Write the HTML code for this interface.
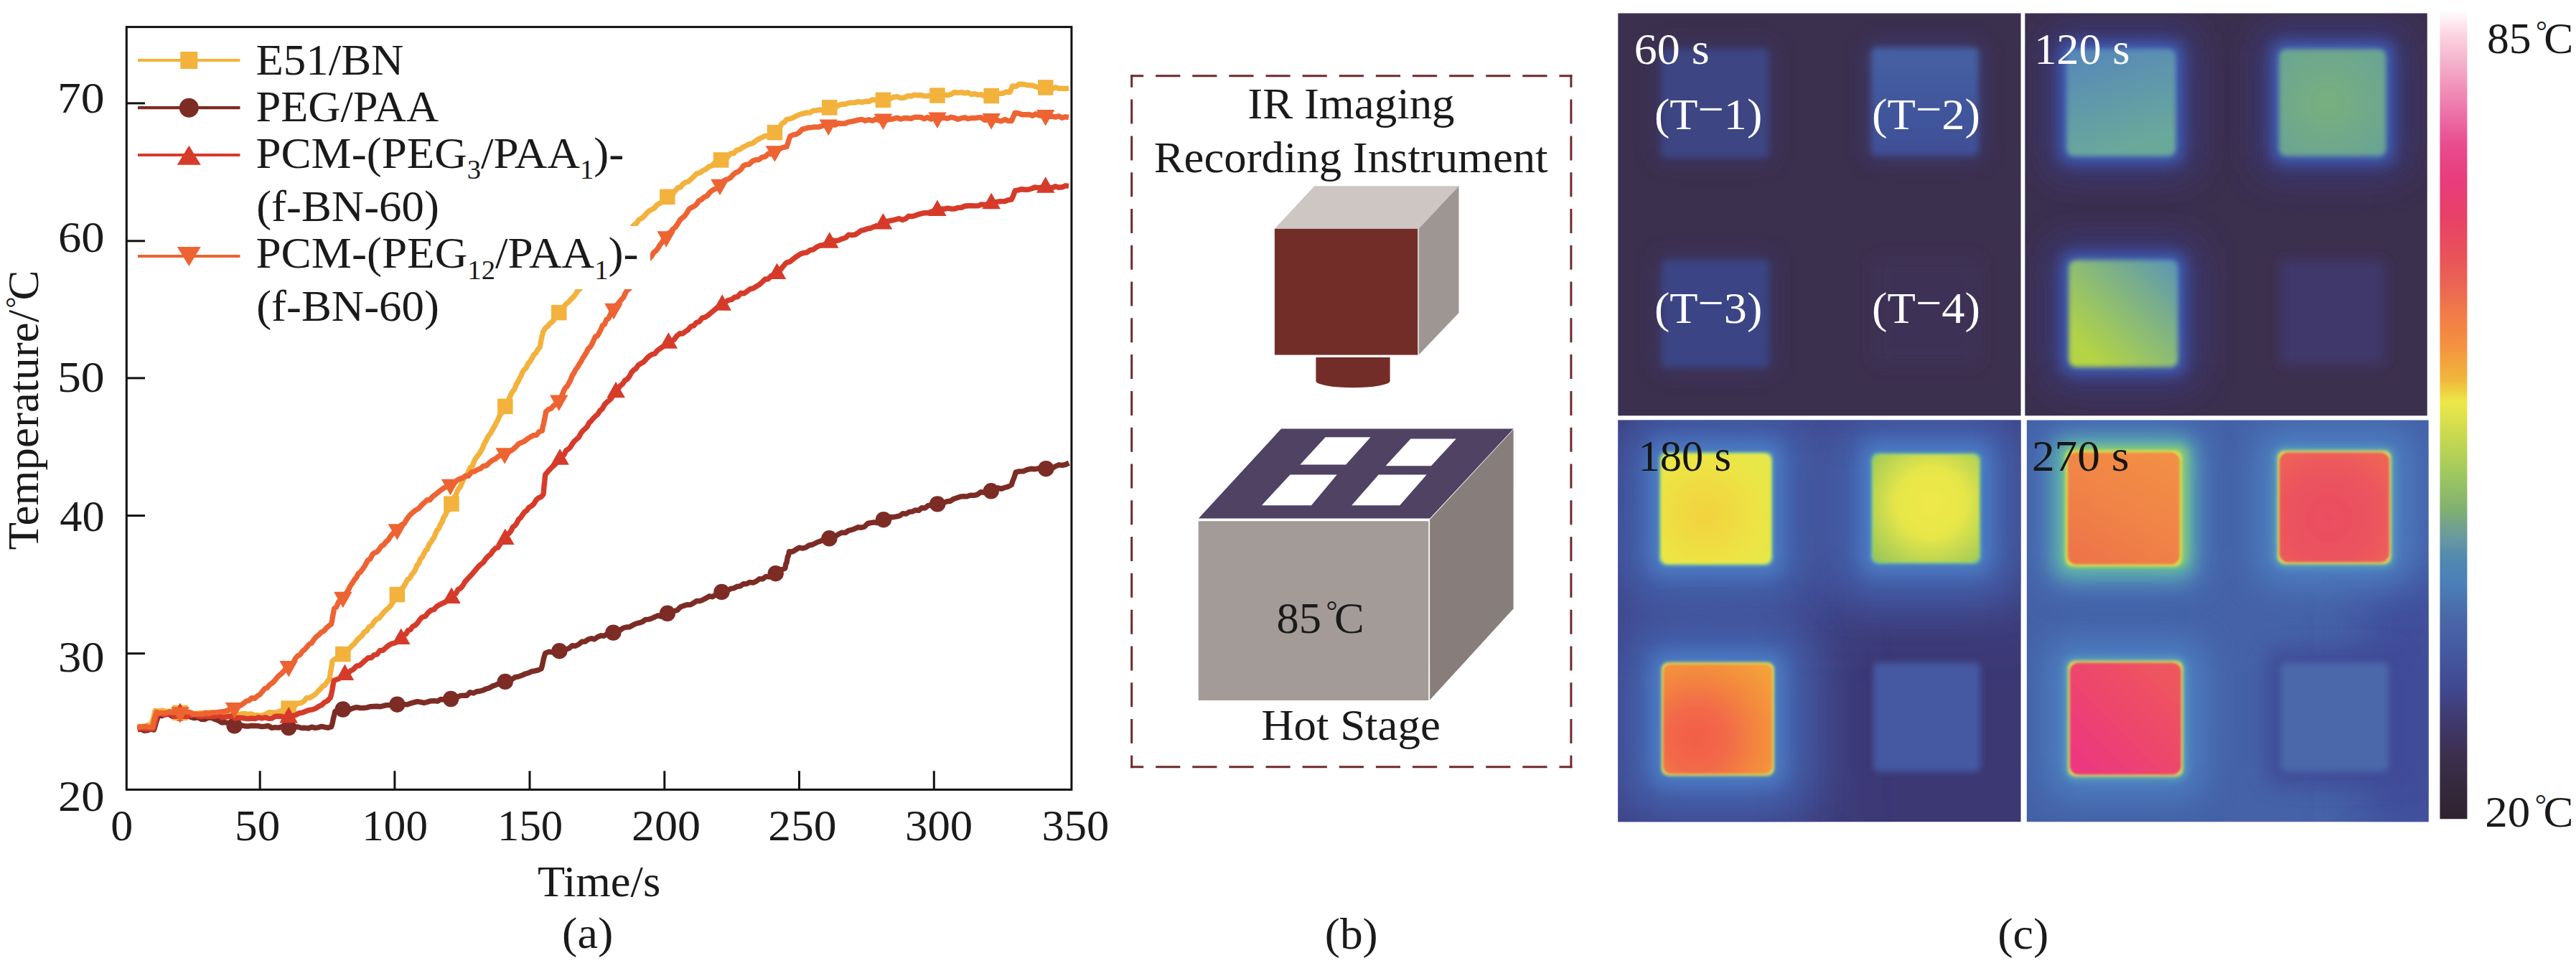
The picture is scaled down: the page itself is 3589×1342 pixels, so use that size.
<!DOCTYPE html>
<html lang="en"><head><meta charset="utf-8"><title>Figure</title>
<style>html,body{margin:0;padding:0;background:#fff;}body{width:3589px;height:1342px;overflow:hidden;}svg{display:block;font-family:"Liberation Serif", serif;}text{font-family:"Liberation Serif", serif;}</style>
</head><body>
<svg width="3589" height="1342" viewBox="0 0 3589 1342">
<rect width="3589" height="1342" fill="#fff"/>
<g id="chart">
<path d="M191.6 1017.0 L196.2 1015.8 L200.8 1018.2 L205.3 1017.9 L209.9 1016.2 L214.5 1017.0 L216.0 1011.9 L217.5 1006.6 L219.0 1002.1 L220.5 996.5 L225.6 997.7 L230.7 995.6 L235.8 995.6 L240.8 998.6 L245.9 997.5 L251.0 998.0 L255.9 999.3 L260.8 997.2 L265.7 999.2 L270.6 1000.6 L275.5 999.3 L280.4 1002.2 L285.3 1002.5 L290.2 1000.0 L295.1 1000.4 L300.0 1002.5 L304.4 1004.1 L308.9 1007.0 L313.3 1006.5 L317.7 1007.5 L322.2 1009.7 L326.6 1011.4 L331.3 1010.0 L336.1 1010.8 L340.8 1011.7 L345.5 1012.1 L350.2 1011.3 L354.9 1011.5 L359.7 1011.6 L364.4 1012.6 L369.1 1012.2 L373.9 1011.5 L378.6 1014.4 L383.3 1013.6 L388.0 1014.1 L392.8 1012.7 L397.5 1015.6 L402.2 1014.1 L406.8 1015.2 L411.3 1012.6 L415.9 1013.2 L420.5 1014.5 L425.0 1014.3 L429.6 1015.0 L434.2 1013.1 L438.8 1014.4 L443.3 1013.8 L447.9 1012.4 L452.5 1013.3 L457.0 1014.2 L461.6 1012.8 L463.0 1008.6 L464.3 1002.0 L465.6 996.9 L467.0 991.2 L472.4 988.3 L477.8 988.5 L482.5 987.2 L487.2 988.7 L492.0 986.9 L496.7 985.7 L501.4 986.5 L506.1 986.6 L510.9 986.1 L515.6 984.7 L520.3 984.5 L525.0 984.3 L529.8 984.8 L534.5 983.5 L539.2 982.6 L544.0 982.5 L548.7 980.5 L553.4 981.7 L558.1 979.7 L562.7 981.4 L567.4 981.9 L572.0 980.1 L576.7 978.9 L581.4 977.7 L586.0 978.3 L590.7 979.5 L595.3 978.3 L600.0 976.9 L604.7 976.6 L609.4 977.2 L614.1 974.5 L618.8 975.0 L623.5 976.0 L628.2 974.0 L632.7 973.0 L637.2 971.3 L641.6 969.4 L646.1 969.1 L650.6 969.2 L655.0 964.7 L659.5 966.0 L664.0 963.8 L668.4 963.3 L672.8 962.0 L677.3 960.0 L681.7 958.7 L686.1 956.1 L690.5 954.7 L695.0 952.7 L699.4 949.9 L703.8 949.9 L708.5 949.4 L713.2 946.7 L717.9 943.7 L722.5 942.9 L727.2 941.1 L731.9 939.0 L736.6 937.7 L741.0 935.7 L745.4 934.9 L749.7 933.8 L754.1 931.9 L755.3 927.9 L756.4 923.0 L757.6 917.2 L758.7 913.5 L759.9 910.1 L764.8 908.3 L769.6 908.9 L774.5 909.2 L779.4 907.2 L783.9 906.6 L788.3 904.9 L792.8 903.4 L797.2 899.8 L801.7 900.2 L806.2 898.0 L810.6 894.3 L815.1 894.1 L819.5 891.1 L823.8 889.7 L828.2 890.8 L832.6 887.7 L836.9 885.8 L841.3 886.2 L845.7 883.8 L850.0 881.5 L854.4 881.6 L858.9 878.7 L863.5 878.3 L868.0 875.3 L872.5 874.0 L877.1 873.8 L881.6 871.2 L886.2 869.0 L890.7 867.9 L895.1 866.4 L899.4 863.4 L903.8 863.1 L908.1 861.8 L912.5 859.6 L916.8 857.8 L921.2 859.1 L925.5 856.3 L929.9 854.8 L934.4 852.0 L939.0 851.5 L943.5 850.4 L948.1 845.9 L952.6 844.1 L957.2 842.7 L961.8 842.9 L966.3 840.3 L970.7 837.4 L975.0 837.6 L979.4 835.8 L983.7 833.6 L988.1 830.8 L992.4 831.7 L996.8 829.3 L1001.1 826.7 L1005.5 824.9 L1009.8 822.6 L1014.1 822.6 L1018.4 820.3 L1022.8 819.6 L1027.1 817.3 L1031.4 816.9 L1035.7 813.6 L1040.0 813.7 L1044.5 811.4 L1049.0 812.1 L1053.6 810.1 L1058.1 806.6 L1062.6 806.9 L1067.1 803.4 L1071.7 803.9 L1076.2 801.6 L1080.7 799.2 L1085.1 796.5 L1089.4 793.5 L1093.8 791.9 L1095.0 785.6 L1096.1 783.9 L1097.3 776.4 L1098.4 774.4 L1099.6 768.7 L1104.2 768.8 L1108.8 766.0 L1113.4 763.2 L1118.0 764.1 L1122.6 763.0 L1127.2 759.9 L1131.9 759.0 L1136.6 756.7 L1141.3 754.7 L1146.0 753.0 L1150.7 750.9 L1155.4 750.3 L1159.9 749.2 L1164.4 746.7 L1168.8 744.2 L1173.3 742.2 L1177.8 742.4 L1182.2 739.4 L1186.7 738.4 L1191.2 736.7 L1195.6 734.7 L1200.0 735.2 L1204.5 733.9 L1208.9 729.5 L1213.3 728.7 L1217.7 727.8 L1222.2 728.6 L1226.6 726.6 L1231.0 724.2 L1235.5 722.3 L1240.0 720.5 L1244.4 720.7 L1248.9 719.9 L1253.4 718.9 L1257.8 715.6 L1262.3 716.1 L1266.8 713.4 L1271.2 712.8 L1275.5 710.9 L1279.9 711.4 L1284.3 707.6 L1288.6 708.1 L1293.0 704.7 L1297.4 703.7 L1301.7 705.0 L1306.1 702.4 L1310.6 700.1 L1315.2 700.6 L1319.7 698.7 L1324.2 698.2 L1328.8 695.2 L1333.3 693.8 L1337.9 692.2 L1342.4 691.6 L1347.2 691.9 L1352.0 690.1 L1356.8 690.4 L1361.6 689.3 L1366.4 685.8 L1371.2 686.3 L1376.0 683.9 L1380.8 684.3 L1385.5 681.3 L1390.3 679.9 L1395.0 681.2 L1399.8 679.5 L1404.5 678.2 L1409.3 675.6 L1410.8 670.7 L1412.2 667.3 L1413.6 663.5 L1415.1 658.2 L1420.3 656.9 L1425.6 656.7 L1430.8 654.6 L1436.1 653.3 L1441.3 653.8 L1446.6 652.8 L1452.0 654.7 L1457.3 653.2 L1461.9 652.3 L1466.4 652.3 L1471.0 649.6 L1475.6 647.8 L1480.2 648.4 L1484.7 647.4 L1489.3 645.1" fill="none" stroke="#7c2c25" stroke-width="7.4" stroke-linejoin="round" stroke-linecap="butt"/>
<circle cx="251.0" cy="994.0" r="11.2" fill="#7c2c25"/>
<circle cx="326.6" cy="1011.4" r="11.2" fill="#7c2c25"/>
<circle cx="402.2" cy="1014.1" r="11.2" fill="#7c2c25"/>
<circle cx="477.8" cy="988.5" r="11.2" fill="#7c2c25"/>
<circle cx="553.4" cy="981.7" r="11.2" fill="#7c2c25"/>
<circle cx="628.2" cy="974.0" r="11.2" fill="#7c2c25"/>
<circle cx="703.8" cy="949.9" r="11.2" fill="#7c2c25"/>
<circle cx="779.4" cy="907.2" r="11.2" fill="#7c2c25"/>
<circle cx="854.4" cy="881.6" r="11.2" fill="#7c2c25"/>
<circle cx="929.9" cy="854.8" r="11.2" fill="#7c2c25"/>
<circle cx="1005.5" cy="824.9" r="11.2" fill="#7c2c25"/>
<circle cx="1080.7" cy="799.2" r="11.2" fill="#7c2c25"/>
<circle cx="1155.4" cy="750.3" r="11.2" fill="#7c2c25"/>
<circle cx="1231.0" cy="724.2" r="11.2" fill="#7c2c25"/>
<circle cx="1306.1" cy="702.4" r="11.2" fill="#7c2c25"/>
<circle cx="1380.8" cy="684.3" r="11.2" fill="#7c2c25"/>
<circle cx="1457.3" cy="653.2" r="11.2" fill="#7c2c25"/>
<path d="M191.6 1011.6 L196.4 1013.2 L201.3 1013.1 L206.2 1010.1 L211.0 1011.6 L212.2 1004.9 L213.5 1002.2 L214.8 996.6 L216.0 990.5 L221.0 991.2 L226.0 990.1 L231.0 991.3 L236.0 991.4 L241.0 991.5 L246.0 990.2 L251.0 991.5 L255.9 991.6 L260.8 991.7 L265.7 993.2 L270.6 994.4 L275.5 994.5 L280.4 993.5 L285.3 993.4 L290.2 993.1 L295.1 992.6 L300.0 994.5 L304.5 993.1 L309.1 994.7 L313.6 994.4 L318.2 994.7 L322.7 996.6 L327.2 995.6 L331.8 995.8 L336.3 994.9 L340.8 994.3 L345.4 995.5 L349.9 995.0 L354.5 996.5 L359.0 996.6 L364.2 997.4 L369.5 995.4 L374.8 992.8 L380.0 993.0 L384.4 993.2 L388.9 991.6 L393.3 990.3 L397.8 989.7 L402.2 987.1 L406.4 985.7 L410.6 983.6 L414.8 979.9 L419.0 979.8 L423.2 977.4 L427.4 972.5 L431.6 972.3 L435.8 969.9 L440.0 966.9 L443.1 963.4 L446.3 960.2 L449.4 956.7 L452.6 954.8 L455.8 950.0 L458.9 946.6 L459.7 942.6 L460.5 935.9 L461.4 932.5 L462.2 927.5 L463.0 921.0 L467.9 917.7 L472.9 914.9 L477.8 911.5 L481.9 909.2 L485.9 904.9 L489.9 900.4 L494.0 896.7 L497.4 892.0 L500.8 888.7 L504.1 886.2 L507.5 880.7 L510.9 879.5 L514.2 873.6 L517.6 872.1 L521.0 867.0 L524.5 862.9 L527.9 861.6 L531.4 857.3 L534.9 853.1 L538.4 849.7 L541.8 846.7 L545.3 842.7 L548.0 838.3 L550.7 832.6 L553.4 828.5 L556.3 823.6 L559.2 820.7 L562.1 818.1 L565.0 813.1 L567.9 807.3 L570.8 805.9 L573.7 800.9 L576.1 797.6 L578.6 794.1 L581.0 787.5 L583.4 785.3 L585.8 778.8 L588.2 776.7 L590.7 771.3 L593.1 767.0 L595.5 765.1 L597.9 758.4 L600.4 755.7 L602.8 751.5 L605.0 748.6 L607.2 742.4 L609.3 738.2 L611.5 736.3 L613.7 730.7 L615.9 727.5 L618.1 721.1 L620.3 718.1 L622.5 713.3 L624.6 710.9 L626.8 704.8 L629.0 702.1 L631.1 699.5 L633.1 692.2 L635.2 690.4 L637.3 683.8 L639.4 680.5 L641.4 678.2 L643.5 673.0 L645.9 667.7 L648.4 663.7 L650.8 661.3 L653.2 656.1 L655.6 650.9 L658.0 650.0 L660.5 643.0 L662.9 638.5 L665.3 635.4 L667.8 632.2 L670.2 628.5 L672.6 623.6 L674.9 617.9 L677.2 614.3 L679.6 608.9 L681.9 606.0 L684.2 602.7 L686.5 598.3 L688.8 594.4 L691.2 589.6 L693.5 585.6 L695.8 580.0 L698.5 576.2 L701.2 570.8 L703.9 566.4 L706.1 561.2 L708.3 558.4 L710.5 552.9 L712.7 547.9 L714.9 544.8 L717.1 542.0 L719.4 535.2 L721.6 532.4 L723.8 527.5 L726.0 523.6 L728.2 518.1 L730.4 515.0 L733.1 512.7 L735.9 506.4 L738.6 503.7 L741.3 499.2 L744.0 493.9 L746.8 491.9 L749.5 486.6 L752.2 483.9 L753.4 476.9 L754.5 471.4 L755.7 466.3 L756.9 462.0 L760.0 456.9 L763.1 454.9 L766.2 450.7 L769.4 448.6 L772.5 444.6 L775.6 441.1 L778.7 435.6 L782.0 431.0 L785.3 428.0 L788.6 423.6 L791.9 421.1 L795.1 417.5 L798.4 414.4 L801.7 410.3 L805.0 405.1 L808.3 402.2 L811.4 398.3 L814.4 394.9 L817.5 389.5 L820.5 385.9 L823.6 383.5 L826.6 378.8 L829.7 377.2 L832.8 371.9 L835.8 367.7 L838.9 364.3 L841.9 360.8 L845.0 358.0 L848.2 353.4 L851.4 350.7 L854.5 346.9 L857.7 342.7 L860.9 340.1 L864.0 335.0 L867.2 333.7 L870.4 330.2 L873.6 325.8 L876.8 321.1 L879.9 317.7 L883.1 314.0 L886.7 311.1 L890.2 306.2 L893.8 304.3 L897.3 301.5 L900.9 297.2 L904.4 293.8 L908.0 292.0 L911.6 290.1 L915.3 285.7 L919.0 283.3 L922.6 281.7 L926.2 277.7 L929.9 274.4 L933.5 270.9 L937.2 270.4 L940.9 265.5 L944.5 261.5 L948.1 260.9 L951.8 256.1 L955.4 254.0 L959.1 253.0 L962.8 249.6 L966.4 246.2 L970.6 242.0 L974.9 240.9 L979.1 238.1 L983.4 235.8 L987.6 232.3 L991.9 231.0 L996.1 226.6 L1000.4 224.8 L1004.6 222.9 L1009.0 220.0 L1013.3 219.4 L1017.7 214.0 L1022.0 213.8 L1026.4 209.4 L1030.8 208.2 L1035.1 205.1 L1039.5 203.0 L1043.9 200.8 L1048.4 199.8 L1052.8 196.5 L1057.2 193.6 L1061.7 191.5 L1066.1 189.4 L1070.5 190.0 L1075.0 187.2 L1079.4 184.7 L1082.7 182.6 L1086.0 178.0 L1089.4 172.1 L1092.7 170.6 L1096.0 166.4 L1100.7 165.7 L1105.3 163.8 L1110.0 161.4 L1114.6 159.3 L1119.3 158.1 L1123.9 156.9 L1128.4 157.0 L1133.0 154.2 L1137.5 154.0 L1142.1 152.8 L1146.7 153.4 L1151.2 151.9 L1155.8 149.8 L1160.2 150.3 L1164.7 149.1 L1169.1 146.3 L1173.5 145.2 L1178.0 145.2 L1182.4 143.4 L1186.8 143.1 L1191.3 143.0 L1195.7 141.5 L1200.7 142.6 L1205.6 141.2 L1210.6 141.6 L1215.5 138.9 L1220.5 139.4 L1225.4 141.3 L1230.4 139.3 L1235.3 137.3 L1240.2 137.4 L1245.1 135.4 L1250.1 134.6 L1255.0 136.6 L1259.9 136.1 L1264.8 133.6 L1269.4 134.0 L1273.9 132.2 L1278.5 132.7 L1283.1 132.5 L1287.6 133.9 L1292.2 133.9 L1296.8 133.0 L1301.3 133.2 L1305.9 133.1 L1310.7 131.1 L1315.5 132.0 L1320.3 132.7 L1325.1 131.4 L1329.9 128.5 L1334.7 129.3 L1339.5 128.6 L1344.1 129.9 L1348.8 128.9 L1353.4 131.6 L1358.0 130.7 L1362.7 132.1 L1367.3 131.6 L1371.9 134.2 L1376.6 134.0 L1381.2 133.6 L1386.3 132.8 L1391.4 130.4 L1396.6 130.4 L1401.7 128.0 L1406.8 128.6 L1408.7 124.6 L1410.6 119.9 L1415.4 120.4 L1420.2 117.2 L1425.0 117.5 L1429.5 118.2 L1434.1 118.7 L1438.6 119.1 L1443.1 120.7 L1447.6 122.1 L1452.2 122.0 L1456.7 121.9 L1461.3 121.9 L1465.9 123.8 L1470.5 121.8 L1475.2 123.3 L1479.8 123.2 L1484.4 123.6 L1489.0 122.9" fill="none" stroke="#f2b23c" stroke-width="7.4" stroke-linejoin="round" stroke-linecap="butt"/>
<rect x="240.2" y="982.6" width="21.5" height="21.5" fill="#f2b23c"/>
<rect x="391.4" y="976.4" width="21.5" height="21.5" fill="#f2b23c"/>
<rect x="467.1" y="900.8" width="21.5" height="21.5" fill="#f2b23c"/>
<rect x="542.6" y="817.8" width="21.5" height="21.5" fill="#f2b23c"/>
<rect x="618.2" y="691.4" width="21.5" height="21.5" fill="#f2b23c"/>
<rect x="693.1" y="555.6" width="21.5" height="21.5" fill="#f2b23c"/>
<rect x="768.0" y="424.9" width="21.5" height="21.5" fill="#f2b23c"/>
<rect x="919.1" y="263.6" width="21.5" height="21.5" fill="#f2b23c"/>
<rect x="993.9" y="212.2" width="21.5" height="21.5" fill="#f2b23c"/>
<rect x="1068.7" y="173.9" width="21.5" height="21.5" fill="#f2b23c"/>
<rect x="1145.0" y="139.1" width="21.5" height="21.5" fill="#f2b23c"/>
<rect x="1219.7" y="128.6" width="21.5" height="21.5" fill="#f2b23c"/>
<rect x="1295.2" y="122.3" width="21.5" height="21.5" fill="#f2b23c"/>
<rect x="1370.5" y="122.8" width="21.5" height="21.5" fill="#f2b23c"/>
<rect x="1446.0" y="111.2" width="21.5" height="21.5" fill="#f2b23c"/>
<path d="M191.6 1015.6 L197.1 1014.7 L202.6 1015.8 L208.0 1015.2 L213.5 1015.6 L215.0 1010.8 L216.5 1005.7 L218.0 998.7 L219.5 995.0 L224.0 993.5 L228.5 996.4 L233.0 994.6 L237.5 994.7 L242.0 997.4 L246.5 995.8 L251.0 996.0 L255.9 997.3 L260.8 996.3 L265.7 997.1 L270.6 995.6 L275.5 997.5 L280.4 998.5 L285.3 997.5 L290.2 998.4 L295.1 998.4 L300.0 998.0 L304.6 996.8 L309.2 999.5 L313.9 999.2 L318.5 998.6 L323.1 998.0 L327.8 1001.1 L332.4 1000.1 L337.0 1000.5 L341.7 1001.2 L346.3 1001.6 L351.0 1001.0 L355.6 1001.6 L360.3 999.7 L364.9 1001.0 L369.6 999.7 L374.3 1001.3 L378.9 1001.0 L383.6 998.3 L388.2 998.3 L392.9 998.5 L397.5 1001.0 L402.2 999.3 L406.9 997.6 L411.6 996.7 L416.4 994.0 L421.1 993.2 L425.8 991.3 L430.6 989.6 L435.3 988.9 L440.0 987.1 L444.0 984.4 L448.1 982.6 L452.1 978.8 L456.2 976.7 L460.2 972.3 L461.3 968.7 L462.4 964.2 L463.4 958.3 L464.5 951.7 L465.6 948.0 L470.6 946.5 L475.5 944.2 L480.5 939.9 L484.6 938.6 L488.6 934.7 L492.6 932.5 L496.7 928.1 L500.8 927.5 L504.8 924.0 L508.9 920.3 L512.9 916.8 L517.0 916.8 L521.0 912.9 L525.2 912.0 L529.4 906.4 L533.6 906.3 L537.8 902.4 L542.0 899.0 L546.2 896.9 L550.4 896.0 L554.6 893.8 L558.8 890.0 L562.1 885.1 L565.4 883.7 L568.6 878.5 L571.9 877.4 L575.2 872.8 L578.5 871.3 L581.7 868.3 L585.0 863.4 L588.3 860.0 L592.4 859.0 L596.4 853.9 L600.5 850.4 L604.6 849.5 L608.6 844.9 L612.7 842.7 L616.8 840.7 L620.9 838.7 L624.9 834.4 L629.0 832.9 L632.1 827.7 L635.3 826.9 L638.4 821.4 L641.6 819.9 L644.7 816.1 L647.9 810.7 L651.0 807.3 L654.1 803.9 L657.3 800.7 L660.4 796.9 L663.6 793.1 L666.7 789.3 L670.1 786.2 L673.5 783.8 L676.8 778.8 L680.2 775.1 L683.6 772.5 L687.0 767.4 L690.4 764.1 L693.8 762.9 L697.1 757.9 L700.5 754.5 L703.9 750.8 L706.6 745.4 L709.3 743.1 L711.9 739.9 L714.6 734.3 L717.3 732.6 L720.0 729.0 L722.7 723.3 L725.3 721.6 L728.0 717.3 L730.7 713.7 L734.0 711.2 L737.2 707.0 L740.5 705.1 L743.8 702.2 L747.1 696.6 L750.4 693.7 L753.6 692.7 L756.9 689.0 L757.4 686.0 L757.9 679.0 L758.3 675.1 L758.8 670.9 L759.3 665.4 L759.8 661.4 L763.2 657.3 L766.6 653.5 L770.0 650.1 L773.3 647.2 L776.7 642.6 L780.1 639.6 L783.0 635.7 L785.9 633.6 L788.8 627.6 L791.8 626.0 L794.7 623.1 L797.6 618.3 L800.5 614.5 L803.4 612.0 L806.3 609.5 L809.2 604.0 L812.1 600.3 L815.0 597.6 L817.9 594.9 L820.8 589.3 L823.7 586.5 L826.6 583.0 L829.5 580.0 L832.7 577.4 L835.9 572.3 L839.0 569.9 L842.2 563.9 L845.4 560.7 L848.6 558.0 L851.7 555.0 L854.9 549.8 L858.1 546.2 L861.2 541.5 L864.3 537.4 L867.5 535.1 L870.6 530.2 L873.7 528.5 L876.8 524.9 L879.9 518.9 L883.1 515.5 L886.2 513.6 L889.3 508.8 L893.1 506.4 L897.0 504.2 L900.8 499.8 L904.6 496.2 L908.4 493.9 L912.3 492.8 L916.1 488.2 L919.9 485.6 L923.7 483.0 L927.6 480.2 L931.4 477.6 L935.3 474.5 L939.2 473.4 L943.1 468.0 L947.0 464.7 L950.8 465.1 L954.7 462.1 L958.6 459.7 L962.5 455.0 L966.4 453.9 L970.3 449.6 L974.3 448.3 L978.3 443.1 L982.3 442.1 L986.3 439.6 L990.2 436.3 L994.2 433.0 L998.2 429.4 L1002.2 426.8 L1006.2 424.6 L1010.5 421.3 L1014.8 418.3 L1019.2 417.6 L1023.5 414.2 L1027.8 413.5 L1032.1 408.5 L1036.5 409.0 L1040.8 405.9 L1045.1 402.8 L1049.3 401.8 L1053.4 399.3 L1057.6 396.9 L1061.8 393.3 L1065.9 389.0 L1070.1 389.0 L1074.3 384.7 L1078.4 382.7 L1082.6 380.9 L1085.9 377.7 L1089.3 373.4 L1092.7 369.3 L1096.0 365.8 L1100.7 364.6 L1105.3 360.9 L1110.0 357.3 L1114.6 354.3 L1119.3 352.5 L1123.9 351.9 L1128.4 348.7 L1133.0 347.9 L1137.5 344.5 L1142.1 342.2 L1146.7 341.4 L1151.2 340.5 L1155.8 337.6 L1160.2 335.0 L1164.7 335.6 L1169.1 334.6 L1173.5 332.7 L1178.0 331.3 L1182.4 327.1 L1186.8 327.7 L1191.3 327.0 L1195.7 324.3 L1200.0 321.2 L1204.4 320.3 L1208.7 318.7 L1213.1 318.0 L1217.4 316.0 L1221.7 314.6 L1226.1 314.0 L1230.4 311.5 L1234.8 308.7 L1239.3 307.8 L1243.7 306.9 L1248.2 305.8 L1252.6 304.5 L1257.0 306.5 L1261.5 305.0 L1265.9 301.3 L1270.4 301.6 L1274.8 300.5 L1279.2 298.8 L1283.7 297.7 L1288.1 296.7 L1292.6 296.7 L1297.0 295.4 L1301.5 293.5 L1305.9 292.9 L1310.7 291.3 L1315.5 291.3 L1320.3 290.1 L1325.1 291.0 L1329.9 291.1 L1334.7 289.4 L1339.5 289.3 L1344.1 287.2 L1348.8 286.8 L1353.4 286.8 L1358.0 286.9 L1362.7 286.8 L1367.3 284.8 L1371.9 285.5 L1376.6 284.2 L1381.2 283.1 L1385.9 282.0 L1390.6 281.0 L1395.2 280.6 L1399.9 280.5 L1404.6 278.7 L1409.3 278.1 L1411.8 272.5 L1414.3 265.6 L1418.8 264.9 L1423.4 263.7 L1427.9 264.2 L1432.5 264.2 L1437.0 263.0 L1441.9 261.0 L1446.8 261.6 L1451.8 261.0 L1456.7 260.7 L1461.3 261.8 L1465.9 261.8 L1470.5 259.7 L1475.2 261.3 L1479.8 260.8 L1484.4 258.8 L1489.0 259.4" fill="none" stroke="#d63b2a" stroke-width="7.4" stroke-linejoin="round" stroke-linecap="butt"/>
<path d="M251.0 979.6 L263.8 1002.1 L238.2 1002.1 Z" fill="#d63b2a"/>
<path d="M402.2 984.9 L414.9 1007.4 L389.4 1007.4 Z" fill="#d63b2a"/>
<path d="M480.5 925.5 L493.2 948.0 L467.8 948.0 Z" fill="#d63b2a"/>
<path d="M558.8 875.6 L571.5 898.1 L546.0 898.1 Z" fill="#d63b2a"/>
<path d="M629.0 818.5 L641.8 841.0 L616.2 841.0 Z" fill="#d63b2a"/>
<path d="M703.9 736.4 L716.6 758.9 L691.1 758.9 Z" fill="#d63b2a"/>
<path d="M780.1 625.2 L792.9 647.7 L767.4 647.7 Z" fill="#d63b2a"/>
<path d="M858.1 531.8 L870.9 554.3 L845.4 554.3 Z" fill="#d63b2a"/>
<path d="M931.4 463.2 L944.1 485.7 L918.6 485.7 Z" fill="#d63b2a"/>
<path d="M1006.2 410.2 L1019.0 432.7 L993.5 432.7 Z" fill="#d63b2a"/>
<path d="M1082.6 366.5 L1095.3 389.0 L1069.8 389.0 Z" fill="#d63b2a"/>
<path d="M1155.8 323.2 L1168.5 345.7 L1143.0 345.7 Z" fill="#d63b2a"/>
<path d="M1230.4 297.1 L1243.2 319.6 L1217.7 319.6 Z" fill="#d63b2a"/>
<path d="M1305.9 278.5 L1318.7 301.0 L1293.2 301.0 Z" fill="#d63b2a"/>
<path d="M1381.2 268.7 L1394.0 291.2 L1368.5 291.2 Z" fill="#d63b2a"/>
<path d="M1456.7 246.3 L1469.5 268.8 L1444.0 268.8 Z" fill="#d63b2a"/>
<path d="M191.6 1013.6 L196.8 1012.7 L202.1 1012.3 L207.3 1013.2 L212.5 1013.6 L213.9 1007.2 L215.2 1001.6 L216.6 997.4 L218.0 992.5 L222.7 994.0 L227.4 993.7 L232.1 993.6 L236.9 991.8 L241.6 993.0 L246.3 992.2 L251.0 993.0 L255.5 992.1 L260.0 992.0 L264.5 992.6 L269.0 995.2 L273.5 995.0 L278.0 995.1 L282.5 995.3 L287.0 993.4 L291.5 994.6 L296.5 992.9 L301.5 992.9 L306.5 992.2 L311.6 991.5 L316.6 990.5 L321.6 986.8 L326.6 987.1 L330.7 985.3 L334.7 983.3 L338.8 980.6 L342.8 977.3 L346.9 976.1 L350.9 972.6 L354.9 973.3 L359.0 969.6 L362.3 967.7 L365.6 963.5 L369.0 959.6 L372.3 958.5 L375.6 954.3 L378.9 952.2 L382.3 949.0 L385.6 944.7 L388.9 941.3 L392.2 938.8 L395.6 935.1 L398.9 931.1 L402.2 929.1 L405.4 925.0 L408.6 923.3 L411.8 917.2 L415.0 913.8 L418.2 912.3 L421.3 907.7 L424.5 905.2 L427.7 901.5 L430.9 897.6 L434.1 896.4 L437.3 891.3 L440.8 887.2 L444.2 884.8 L447.7 881.0 L451.2 879.4 L454.7 875.1 L458.1 872.3 L461.6 869.7 L462.6 865.1 L463.6 858.3 L464.6 853.7 L465.6 848.1 L468.7 845.7 L471.7 839.1 L474.8 835.2 L477.8 832.9 L480.5 828.0 L483.2 825.8 L485.9 821.2 L488.5 815.9 L491.2 812.2 L493.9 807.7 L496.6 804.6 L499.3 799.2 L502.0 797.4 L504.6 794.0 L507.3 790.2 L510.0 785.4 L512.7 780.6 L515.8 778.9 L519.0 772.5 L522.1 770.1 L525.2 769.2 L528.4 765.3 L531.5 760.8 L534.6 759.4 L537.7 755.0 L540.9 752.5 L544.0 747.4 L547.1 743.8 L550.3 741.5 L553.4 738.4 L556.7 733.7 L559.9 731.1 L563.2 729.6 L566.5 724.0 L569.7 719.5 L573.0 716.2 L576.2 713.1 L579.5 710.8 L583.4 708.6 L587.3 704.0 L591.1 700.6 L595.0 696.8 L598.9 696.7 L602.8 691.9 L606.9 689.0 L611.0 685.6 L615.1 682.4 L619.3 679.7 L623.4 677.4 L627.5 675.9 L631.7 674.1 L635.9 670.0 L640.0 667.3 L644.2 666.4 L648.4 663.2 L652.5 663.4 L656.7 658.1 L660.9 657.0 L665.1 654.6 L669.3 653.0 L673.6 649.3 L677.8 648.8 L682.0 644.6 L686.2 641.3 L690.4 639.4 L694.7 635.7 L698.9 634.5 L703.1 632.3 L707.0 629.0 L711.0 628.7 L714.9 626.0 L718.9 622.4 L722.8 618.3 L726.8 616.6 L730.7 614.9 L734.8 611.6 L738.9 609.0 L743.0 606.7 L747.2 606.4 L751.3 601.5 L755.4 600.3 L756.4 593.5 L757.4 591.2 L758.5 584.7 L759.5 580.9 L760.5 574.0 L764.1 570.6 L767.8 569.2 L771.4 565.3 L775.1 562.7 L778.7 558.6 L781.0 555.1 L783.4 549.9 L785.7 544.1 L788.0 540.2 L790.4 538.1 L792.7 533.8 L795.0 529.5 L797.3 523.2 L799.7 519.9 L802.0 515.0 L804.5 512.0 L807.0 507.4 L809.5 503.9 L812.0 498.9 L814.5 495.3 L817.0 491.3 L819.5 485.9 L822.0 484.0 L824.5 480.1 L827.0 474.5 L829.5 469.1 L832.1 468.2 L834.6 464.2 L837.2 459.2 L839.7 453.1 L842.3 452.1 L844.8 445.5 L847.4 444.4 L849.9 439.4 L852.5 433.4 L855.0 430.9 L857.7 426.2 L860.5 424.2 L863.2 420.4 L865.9 417.4 L868.6 414.4 L871.3 408.4 L874.1 404.1 L876.8 402.2 L879.4 399.7 L882.0 392.7 L884.6 391.8 L887.2 385.3 L889.8 383.7 L892.5 379.7 L895.1 376.1 L897.7 371.1 L900.3 368.3 L902.9 362.1 L905.5 359.2 L908.3 356.2 L911.2 351.4 L914.0 349.7 L916.9 345.7 L919.7 341.0 L922.5 337.6 L925.4 332.3 L928.2 330.3 L931.4 325.0 L934.5 323.2 L937.7 319.1 L940.9 316.7 L944.1 312.1 L947.2 306.8 L950.4 303.8 L953.6 301.5 L956.8 296.9 L959.9 291.5 L963.1 289.4 L966.7 287.7 L970.4 284.8 L974.0 279.4 L977.6 278.1 L981.2 274.6 L984.9 273.1 L988.5 268.6 L992.1 265.5 L995.7 263.5 L999.4 262.3 L1003.0 257.8 L1006.6 253.6 L1010.3 250.8 L1014.0 249.7 L1017.6 247.8 L1021.2 243.7 L1024.9 240.6 L1028.5 239.2 L1032.2 236.1 L1035.8 230.9 L1039.5 229.5 L1043.9 228.8 L1048.4 224.4 L1052.8 222.8 L1057.2 222.6 L1061.7 219.1 L1066.1 218.4 L1070.5 214.2 L1075.0 214.6 L1079.4 211.3 L1084.9 208.0 L1090.5 205.6 L1096.0 204.6 L1097.7 199.6 L1099.3 194.1 L1101.0 189.7 L1105.2 187.9 L1109.3 187.2 L1113.5 184.6 L1117.6 180.2 L1121.8 179.3 L1125.9 178.0 L1130.6 177.6 L1135.3 176.9 L1140.1 177.1 L1144.8 175.7 L1149.5 173.8 L1154.2 174.7 L1158.8 173.0 L1163.4 174.2 L1168.0 171.7 L1172.6 172.2 L1177.3 172.1 L1181.9 170.1 L1186.5 169.4 L1191.1 168.3 L1195.7 167.1 L1200.7 166.4 L1205.6 168.3 L1210.6 166.7 L1215.5 168.2 L1220.5 166.0 L1225.4 167.8 L1230.4 166.5 L1235.3 167.2 L1240.2 166.4 L1245.1 165.5 L1250.1 164.2 L1255.0 166.1 L1259.9 164.5 L1264.8 164.7 L1269.4 165.2 L1273.9 163.4 L1278.5 163.2 L1283.1 163.4 L1287.6 165.7 L1292.2 163.5 L1296.8 166.0 L1301.3 164.2 L1305.9 164.6 L1310.7 164.9 L1315.5 164.1 L1320.3 165.1 L1325.1 163.3 L1329.9 164.3 L1334.7 166.2 L1339.5 164.7 L1344.1 163.8 L1348.8 165.5 L1353.4 164.5 L1358.0 164.6 L1362.7 163.8 L1367.3 163.9 L1371.9 167.2 L1376.6 167.0 L1381.2 166.0 L1385.9 167.4 L1390.6 167.9 L1395.2 168.8 L1399.9 166.5 L1404.6 168.4 L1409.3 168.5 L1411.8 162.8 L1414.3 157.2 L1419.2 158.0 L1424.2 159.8 L1429.1 159.8 L1434.0 159.5 L1438.5 161.4 L1443.1 158.8 L1447.6 160.9 L1452.2 161.3 L1456.7 161.0 L1461.3 162.2 L1465.9 162.1 L1470.5 163.2 L1475.2 161.8 L1479.8 164.2 L1484.4 162.8 L1489.0 163.5" fill="none" stroke="#ee6332" stroke-width="7.4" stroke-linejoin="round" stroke-linecap="butt"/>
<path d="M251.0 1007.8 L263.8 985.3 L238.2 985.3 Z" fill="#ee6332"/>
<path d="M326.6 1001.5 L339.4 979.0 L313.9 979.0 Z" fill="#ee6332"/>
<path d="M402.2 943.5 L414.9 921.0 L389.4 921.0 Z" fill="#ee6332"/>
<path d="M477.8 847.3 L490.6 824.8 L465.1 824.8 Z" fill="#ee6332"/>
<path d="M553.4 752.8 L566.1 730.3 L540.6 730.3 Z" fill="#ee6332"/>
<path d="M627.5 690.3 L640.2 667.8 L614.8 667.8 Z" fill="#ee6332"/>
<path d="M703.1 646.7 L715.9 624.2 L690.4 624.2 Z" fill="#ee6332"/>
<path d="M778.7 573.0 L791.5 550.5 L766.0 550.5 Z" fill="#ee6332"/>
<path d="M855.0 445.3 L867.8 422.8 L842.2 422.8 Z" fill="#ee6332"/>
<path d="M928.2 344.7 L941.0 322.2 L915.5 322.2 Z" fill="#ee6332"/>
<path d="M1003.0 272.2 L1015.8 249.7 L990.2 249.7 Z" fill="#ee6332"/>
<path d="M1079.4 225.7 L1092.2 203.2 L1066.7 203.2 Z" fill="#ee6332"/>
<path d="M1154.2 189.1 L1167.0 166.6 L1141.5 166.6 Z" fill="#ee6332"/>
<path d="M1230.4 180.9 L1243.2 158.4 L1217.7 158.4 Z" fill="#ee6332"/>
<path d="M1305.9 179.0 L1318.7 156.5 L1293.2 156.5 Z" fill="#ee6332"/>
<path d="M1381.2 180.4 L1394.0 157.9 L1368.5 157.9 Z" fill="#ee6332"/>
<path d="M1456.7 175.4 L1469.5 152.9 L1444.0 152.9 Z" fill="#ee6332"/>
<rect x="345" y="315" width="561" height="88" fill="#fff"/>
<rect x="176.3" y="37.6" width="1316.6" height="1062.8" fill="none" stroke="#111" stroke-width="3"/>
<line x1="362.2" y1="1100" x2="362.2" y2="1074.3" stroke="#111" stroke-width="3"/>
<line x1="549.9" y1="1100" x2="549.9" y2="1074.3" stroke="#111" stroke-width="3"/>
<line x1="738.0" y1="1100" x2="738.0" y2="1074.3" stroke="#111" stroke-width="3"/>
<line x1="925.8" y1="1100" x2="925.8" y2="1074.3" stroke="#111" stroke-width="3"/>
<line x1="1113.5" y1="1100" x2="1113.5" y2="1074.3" stroke="#111" stroke-width="3"/>
<line x1="1301.3" y1="1100" x2="1301.3" y2="1074.3" stroke="#111" stroke-width="3"/>
<line x1="177" y1="143.9" x2="202" y2="143.9" stroke="#111" stroke-width="3"/>
<line x1="177" y1="335.8" x2="202" y2="335.8" stroke="#111" stroke-width="3"/>
<line x1="177" y1="526.9" x2="202" y2="526.9" stroke="#111" stroke-width="3"/>
<line x1="177" y1="718.6" x2="202" y2="718.6" stroke="#111" stroke-width="3"/>
<line x1="177" y1="910.7" x2="202" y2="910.7" stroke="#111" stroke-width="3"/>
<text transform="translate(154.20 1170.70) scale(1.0000 1)" font-size="62" fill="#1a1a1a" >0</text>
<text transform="translate(327.12 1170.70) scale(1.0196 1)" font-size="62" fill="#1a1a1a" >50</text>
<text transform="translate(504.27 1170.70) scale(0.9860 1)" font-size="62" fill="#1a1a1a" >100</text>
<text transform="translate(693.10 1170.70) scale(0.9802 1)" font-size="62" fill="#1a1a1a" >150</text>
<text transform="translate(880.00 1170.70) scale(1.0341 1)" font-size="62" fill="#1a1a1a" >200</text>
<text transform="translate(1070.22 1170.70) scale(1.0250 1)" font-size="62" fill="#1a1a1a" >250</text>
<text transform="translate(1261.06 1170.70) scale(1.0125 1)" font-size="62" fill="#1a1a1a" >300</text>
<text transform="translate(1451.57 1170.70) scale(1.0091 1)" font-size="62" fill="#1a1a1a" >350</text>
<text transform="translate(79.96 156.60) scale(1.0607 1)" font-size="62" fill="#1a1a1a" >70</text>
<text transform="translate(81.07 350.60) scale(1.0421 1)" font-size="62" fill="#1a1a1a" >60</text>
<text transform="translate(79.96 545.60) scale(1.0607 1)" font-size="62" fill="#1a1a1a" >50</text>
<text transform="translate(83.19 740.20) scale(1.0068 1)" font-size="62" fill="#1a1a1a" >40</text>
<text transform="translate(81.07 935.60) scale(1.0421 1)" font-size="62" fill="#1a1a1a" >30</text>
<text transform="translate(81.07 1130.30) scale(1.0421 1)" font-size="62" fill="#1a1a1a" >20</text>
<text transform="translate(748.99 1248.50) scale(1.0072 1)" font-size="62" fill="#1a1a1a" >Time/s</text>
<g transform="translate(52.7 765.5) rotate(-90)">
<text transform="translate(-1.02 0.00) scale(1.0158 1)" font-size="62" fill="#1a1a1a" >Temperature/<tspan font-size="40" dy="-17" dx="2">°</tspan><tspan dy="17" dx="-5">C</tspan></text>
</g>
<line x1="192.0" y1="84.0" x2="334.5" y2="84.0" stroke="#f2b23c" stroke-width="4.2"/>
<line x1="192.0" y1="150.2" x2="334.5" y2="150.2" stroke="#7c2c25" stroke-width="4.2"/>
<line x1="192.0" y1="216.0" x2="334.5" y2="216.0" stroke="#d63b2a" stroke-width="4.2"/>
<line x1="192.0" y1="357.0" x2="334.5" y2="357.0" stroke="#ee6332" stroke-width="4.2"/>
<rect x="251.3" y="72.0" width="24.0" height="24.0" fill="#f2b23c"/>
<circle cx="263.3" cy="150.2" r="13.5" fill="#7c2c25"/>
<path d="M263.3 202.8 L279.8 229.8 L246.8 229.8 Z" fill="#d63b2a"/>
<path d="M263.3 371.0 L279.8 344.0 L246.8 344.0 Z" fill="#ee6332"/>
<text transform="translate(356.47 103.70) scale(1.0140 1)" font-size="62" fill="#1a1a1a" >E51/BN</text>
<text transform="translate(356.48 168.70) scale(1.0076 1)" font-size="62" fill="#1a1a1a" >PEG/PAA</text>
<text transform="translate(356.47 233.60) scale(1.0172 1)" font-size="62" fill="#1a1a1a" >PCM-(PEG<tspan font-size="38" dy="15.5">3</tspan><tspan dy="-15.5">/PAA</tspan><tspan font-size="38" dy="15.5">1</tspan><tspan dy="-15.5">)-</tspan></text>
<text transform="translate(357.16 307.70) scale(1.0134 1)" font-size="62" fill="#1a1a1a" >(f-BN-60)</text>
<text transform="translate(356.46 373.10) scale(1.0191 1)" font-size="62" fill="#1a1a1a" >PCM-(PEG<tspan font-size="38" dy="15.5">12</tspan><tspan dy="-15.5">/PAA</tspan><tspan font-size="38" dy="15.5">1</tspan><tspan dy="-15.5">)-</tspan></text>
<text transform="translate(357.16 447.30) scale(1.0134 1)" font-size="62" fill="#1a1a1a" >(f-BN-60)</text>
<text transform="translate(783.10 1321.20) scale(1.0349 1)" font-size="62" fill="#1a1a1a" >(a)</text>
</g>
<g id="diagram">
<line x1="1575.2" y1="105.8" x2="2190.4" y2="105.8" stroke="#6e2a2c" stroke-width="3" stroke-dasharray="18 16.92 34.2 16.92 34.2 16.92 34.2 16.92 34.2 16.92 34.2 16.92 34.2 16.92 34.2 16.92 34.2 16.92 34.2 16.92 34.2 16.92 34.2 16.92 18"/>
<line x1="1575.2" y1="1068.8" x2="2190.4" y2="1068.8" stroke="#6e2a2c" stroke-width="3" stroke-dasharray="18 16.92 34.2 16.92 34.2 16.92 34.2 16.92 34.2 16.92 34.2 16.92 34.2 16.92 34.2 16.92 34.2 16.92 34.2 16.92 34.2 16.92 34.2 16.92 18"/>
<line x1="1576.7" y1="104.3" x2="1576.7" y2="1070.3" stroke="#6e2a2c" stroke-width="3" stroke-dasharray="17.5 16.79 34 16.79 34 16.79 34 16.79 34 16.79 34 16.79 34 16.79 34 16.79 34 16.79 34 16.79 34 16.79 34 16.79 34 16.79 34 16.79 34 16.79 34 16.79 34 16.79 34 16.79 34 16.79 17.5"/>
<line x1="2188.9" y1="104.3" x2="2188.9" y2="1070.3" stroke="#6e2a2c" stroke-width="3" stroke-dasharray="17.5 16.79 34 16.79 34 16.79 34 16.79 34 16.79 34 16.79 34 16.79 34 16.79 34 16.79 34 16.79 34 16.79 34 16.79 34 16.79 34 16.79 34 16.79 34 16.79 34 16.79 34 16.79 34 16.79 17.5"/>
<text transform="translate(1738.27 165.10) scale(1.0149 1)" font-size="62" fill="#1a1a1a" >IR Imaging</text>
<text transform="translate(1607.78 239.90) scale(1.0120 1)" font-size="62" fill="#1a1a1a" >Recording Instrument</text>
<polygon points="1775.9,318.8 1831.4,259.3 2032.5,259.3 1976.6,318.8" fill="#cdc6c3"/>
<polygon points="1976.6,318.8 2032.5,259.3 2032.5,436.1 1976.6,494.6" fill="#9e9693"/>
<rect x="1775.9" y="318.8" width="199.4" height="175.8" fill="#732d28"/>
<path d="M1833.4 498 H1936.6 V531 A51.6 9.2 0 0 1 1833.4 531 Z" fill="#732d28"/>
<polygon points="1669.8,722.5 1785,597.5 2108.6,597.5 1992.1,722.5" fill="#4f4263"/>
<polygon points="1992.1,724 2108.6,598.5 2108.6,848.3 1992.1,975.5" fill="#877e7c"/>
<rect x="1669.7" y="726.2" width="320.6" height="249.8" fill="#a39b98"/>
<polygon points="1846.6,609.3 1909.5,609.3 1875.2,647.5 1811.4,647.5" fill="#fff"/>
<polygon points="1965.4,611.4 2028.8,611.4 1993.9,649.3 1930.5,649.3" fill="#fff"/>
<polygon points="1797.5,661.4 1862.7,661.4 1827,704.3 1757.9,704.3" fill="#fff"/>
<polygon points="1920.7,661.4 1987.7,661.4 1950.2,704.3 1883.2,704.3" fill="#fff"/>
<text transform="translate(1778.48 882.40) scale(1.0078 1)" font-size="62" fill="#1a1a1a" >85<tspan font-size="40" dy="-17" dx="6.5">°</tspan><tspan dy="17" dx="-4.5">C</tspan></text>
<text transform="translate(1757.17 1031.00) scale(1.0140 1)" font-size="62" fill="#1a1a1a" >Hot Stage</text>
<text transform="translate(1845.83 1321.60) scale(1.0224 1)" font-size="62" fill="#1a1a1a" >(b)</text>
</g>
<defs>
<filter id="b1_5" x="-80%" y="-80%" width="260%" height="260%"><feGaussianBlur stdDeviation="1.5"/></filter><filter id="b2" x="-80%" y="-80%" width="260%" height="260%"><feGaussianBlur stdDeviation="2"/></filter><filter id="b3" x="-80%" y="-80%" width="260%" height="260%"><feGaussianBlur stdDeviation="3"/></filter><filter id="b4" x="-80%" y="-80%" width="260%" height="260%"><feGaussianBlur stdDeviation="4"/></filter><filter id="b5" x="-80%" y="-80%" width="260%" height="260%"><feGaussianBlur stdDeviation="5"/></filter><filter id="b6" x="-80%" y="-80%" width="260%" height="260%"><feGaussianBlur stdDeviation="6"/></filter><filter id="b8" x="-80%" y="-80%" width="260%" height="260%"><feGaussianBlur stdDeviation="8"/></filter><filter id="b10" x="-80%" y="-80%" width="260%" height="260%"><feGaussianBlur stdDeviation="10"/></filter><filter id="b12" x="-80%" y="-80%" width="260%" height="260%"><feGaussianBlur stdDeviation="12"/></filter><filter id="b13" x="-80%" y="-80%" width="260%" height="260%"><feGaussianBlur stdDeviation="13"/></filter><filter id="b15" x="-80%" y="-80%" width="260%" height="260%"><feGaussianBlur stdDeviation="15"/></filter><filter id="b25" x="-80%" y="-80%" width="260%" height="260%"><feGaussianBlur stdDeviation="25"/></filter><filter id="b32" x="-80%" y="-80%" width="260%" height="260%"><feGaussianBlur stdDeviation="32"/></filter><filter id="b40" x="-80%" y="-80%" width="260%" height="260%"><feGaussianBlur stdDeviation="40"/></filter><filter id="b50" x="-80%" y="-80%" width="260%" height="260%"><feGaussianBlur stdDeviation="50"/></filter>
<linearGradient id="cbar" x1="0" y1="0" x2="0" y2="1"><stop offset="0.0" stop-color="#ffffff"/><stop offset="0.031" stop-color="#fbd3e0"/><stop offset="0.076" stop-color="#f2a6c4"/><stop offset="0.12" stop-color="#ed78ab"/><stop offset="0.164" stop-color="#e84e8f"/><stop offset="0.209" stop-color="#e83c7c"/><stop offset="0.253" stop-color="#e84068"/><stop offset="0.298" stop-color="#e8505a"/><stop offset="0.342" stop-color="#ea6652"/><stop offset="0.369" stop-color="#f0784a"/><stop offset="0.413" stop-color="#f4903f"/><stop offset="0.457" stop-color="#f0b83c"/><stop offset="0.484" stop-color="#ece848"/><stop offset="0.528" stop-color="#c8d850"/><stop offset="0.573" stop-color="#a0c860"/><stop offset="0.617" stop-color="#80b070"/><stop offset="0.653" stop-color="#6898a0"/><stop offset="0.68" stop-color="#5088b0"/><stop offset="0.706" stop-color="#4c80b8"/><stop offset="0.75" stop-color="#4a68a8"/><stop offset="0.795" stop-color="#4458a0"/><stop offset="0.839" stop-color="#404890"/><stop offset="0.875" stop-color="#403a70"/><stop offset="0.919" stop-color="#3c3050"/><stop offset="0.963" stop-color="#34283c"/><stop offset="1.0" stop-color="#30222e"/></linearGradient>
<linearGradient id="g60b" x1="0" y1="0" x2="0" y2="1"><stop offset="0" stop-color="#4561a3"/><stop offset="1" stop-color="#3f4f97"/></linearGradient>
<linearGradient id="g120a" x1="0" y1="0" x2="0.3" y2="1"><stop offset="0" stop-color="#5686ba"/><stop offset="1" stop-color="#6aa99a"/></linearGradient>
<radialGradient id="g120b" cx="0.45" cy="0.5" r="0.75"><stop offset="0" stop-color="#78b07e"/><stop offset="1" stop-color="#68a296"/></radialGradient>
<linearGradient id="g120c" x1="0.15" y1="0.85" x2="0.95" y2="0.05"><stop offset="0" stop-color="#b4d444"/><stop offset="0.45" stop-color="#8cbc74"/><stop offset="1" stop-color="#5e98b0"/></linearGradient>
<radialGradient id="g180a" cx="0.4" cy="0.55" r="0.8"><stop offset="0" stop-color="#f2d23e"/><stop offset="0.6" stop-color="#ece444"/><stop offset="1" stop-color="#e4e84a"/></radialGradient>
<radialGradient id="g180b" cx="0.55" cy="0.45" r="0.72"><stop offset="0" stop-color="#f0e848"/><stop offset="0.45" stop-color="#e6e64a"/><stop offset="1" stop-color="#9cc858"/></radialGradient>
<radialGradient id="g180c" cx="0.3" cy="0.68" r="0.9"><stop offset="0" stop-color="#f25e4a"/><stop offset="0.3" stop-color="#f2684a"/><stop offset="0.65" stop-color="#f3883e"/><stop offset="1" stop-color="#f4a238"/></radialGradient>
<linearGradient id="g270a" x1="0.2" y1="1" x2="0.8" y2="0"><stop offset="0" stop-color="#ee7448"/><stop offset="0.5" stop-color="#f08446"/><stop offset="1" stop-color="#f28e44"/></linearGradient>
<radialGradient id="g270b" cx="0.45" cy="0.6" r="0.75"><stop offset="0" stop-color="#ea4e60"/><stop offset="0.5" stop-color="#eb525e"/><stop offset="1" stop-color="#ef6457"/></radialGradient>
<linearGradient id="g270c" x1="0.1" y1="0.9" x2="0.95" y2="0.05"><stop offset="0" stop-color="#ec387e"/><stop offset="0.6" stop-color="#ed4a68"/><stop offset="1" stop-color="#ee585c"/></linearGradient>
</defs>
<g id="ir">
<svg x="2254.3" y="18.4" width="561.2" height="560.8" viewBox="0 0 561.2 560.8" overflow="hidden">
<rect x="-5" y="-5" width="571.2" height="570.8" fill="#3c304f"/>
<rect x="54.0" y="44.0" width="162.0" height="163.0" rx="11.6" fill="#3b3a6e" filter="url(#b15)" opacity="0.6"/>
<rect x="347.0" y="42.0" width="161.0" height="162.0" rx="11.6" fill="#3c4080" filter="url(#b15)" opacity="0.7"/>
<rect x="55.0" y="338.0" width="161.0" height="161.0" rx="11.6" fill="#3b3a6e" filter="url(#b15)" opacity="0.6"/>
<rect x="60.0" y="50.0" width="150.0" height="151.0" rx="6.0" fill="#3c4483" filter="url(#b5)"/>
<rect x="353.0" y="48.0" width="149.0" height="150.0" rx="6.0" fill="url(#g60b)" filter="url(#b4)"/>
<rect x="61.0" y="344.0" width="149.0" height="149.0" rx="6.0" fill="#3b4485" filter="url(#b5)"/>
<rect x="356.0" y="340.0" width="148.0" height="150.0" rx="6.0" fill="#3d3354" filter="url(#b10)"/>
</svg>
<svg x="2821.3" y="18.4" width="560.4" height="560.8" viewBox="0 0 560.4 560.8" overflow="hidden">
<rect x="-5" y="-5" width="570.4" height="570.8" fill="#3c304f"/>
<rect x="30.0" y="22.0" width="208.0" height="205.0" rx="24.8" fill="#3a3a7e" filter="url(#b25)" opacity="0.95"/>
<rect x="326.0" y="22.0" width="205.0" height="205.0" rx="24.8" fill="#3a3a7e" filter="url(#b25)" opacity="0.95"/>
<rect x="33.0" y="316.0" width="208.0" height="205.0" rx="24.8" fill="#3a3a7e" filter="url(#b25)" opacity="0.95"/>
<rect x="49.0" y="41.0" width="170.0" height="167.0" rx="13.4" fill="#4060ba" filter="url(#b10)"/>
<rect x="345.0" y="41.0" width="167.0" height="167.0" rx="13.4" fill="#4060ba" filter="url(#b10)"/>
<rect x="52.0" y="335.0" width="170.0" height="167.0" rx="13.4" fill="#4060ba" filter="url(#b10)"/>
<rect x="356.0" y="344.0" width="146.0" height="146.0" rx="6.0" fill="#3f376a" filter="url(#b8)"/>
<rect x="58.0" y="50.0" width="152.0" height="149.0" rx="10.0" fill="url(#g120a)" filter="url(#b3)"/>
<rect x="354.0" y="50.0" width="149.0" height="149.0" rx="10.0" fill="url(#g120b)" filter="url(#b3)"/>
<rect x="61.0" y="344.0" width="152.0" height="149.0" rx="10.0" fill="url(#g120c)" filter="url(#b3)"/>
</svg>
<svg x="2254.3" y="585.4" width="561.2" height="559.8" viewBox="0 0 561.2 559.8" overflow="hidden">
<rect x="-5" y="-5" width="571.2" height="569.8" fill="#3b3874"/>
<rect x="-40.0" y="40.0" width="320.0" height="560.0" rx="8.0" fill="#3f4890" filter="url(#b50)"/>
<rect x="40.0" y="-40.0" width="560.0" height="300.0" rx="8.0" fill="#3f4890" filter="url(#b50)"/>
<rect x="12.0" y="-1.0" width="249.0" height="249.0" rx="36.8" fill="#4466b2" filter="url(#b32)"/>
<rect x="307.0" y="0.0" width="244.0" height="246.0" rx="36.8" fill="#4466b2" filter="url(#b32)"/>
<rect x="15.0" y="292.0" width="248.0" height="249.0" rx="36.8" fill="#4466b2" filter="url(#b32)"/>
<rect x="45.0" y="32.0" width="183.0" height="183.0" rx="17.0" fill="#4e80c6" filter="url(#b13)" opacity="0.95"/>
<rect x="340.0" y="33.0" width="178.0" height="180.0" rx="17.0" fill="#4e80c6" filter="url(#b13)" opacity="0.95"/>
<rect x="48.0" y="325.0" width="182.0" height="183.0" rx="17.0" fill="#4e80c6" filter="url(#b13)" opacity="0.95"/>
<rect x="57.5" y="44.5" width="158.0" height="158.0" rx="9.5" fill="#8cd08c" filter="url(#b2)"/>
<rect x="352.5" y="45.5" width="153.0" height="155.0" rx="9.5" fill="#70c098" filter="url(#b2)"/>
<rect x="60.5" y="337.5" width="157.0" height="158.0" rx="9.5" fill="#d8e458" filter="url(#b2)"/>
<rect x="356.0" y="338.0" width="149.0" height="152.0" rx="8.0" fill="#4559a2" filter="url(#b4)"/>
<rect x="60.0" y="47.0" width="153.0" height="153.0" rx="10.0" fill="url(#g180a)" filter="url(#b1_5)"/>
<rect x="355.0" y="48.0" width="148.0" height="150.0" rx="10.0" fill="url(#g180b)" filter="url(#b1_5)"/>
<rect x="63.0" y="340.0" width="152.0" height="153.0" rx="10.0" fill="url(#g180c)" filter="url(#b1_5)"/>
</svg>
<svg x="2823.8" y="585.4" width="559.8" height="559.8" viewBox="0 0 559.8 559.8" overflow="hidden">
<rect x="-5" y="-5" width="569.8" height="569.8" fill="#4562a8"/>
<rect x="470.0" y="230.0" width="140.0" height="360.0" rx="8.0" fill="#414c9a" filter="url(#b40)"/>
<rect x="27.0" y="15.0" width="216.0" height="216.0" rx="26.0" fill="#4f84c6" filter="url(#b25)" opacity="0.95"/>
<rect x="322.0" y="15.0" width="213.0" height="213.0" rx="26.0" fill="#4f84c6" filter="url(#b25)" opacity="0.95"/>
<rect x="30.0" y="308.0" width="215.0" height="216.0" rx="26.0" fill="#4f84c6" filter="url(#b25)" opacity="0.95"/>
<rect x="334.0" y="318.0" width="190.0" height="192.0" rx="20.0" fill="#3f4a96" filter="url(#b15)" opacity="0.9"/>
<rect x="37.0" y="25.0" width="196.0" height="196.0" rx="20.0" fill="#5cb2a8" filter="url(#b12)"/>
<rect x="52.0" y="36.0" width="172.0" height="168.0" rx="12.2" fill="#86c87a" filter="url(#b6)"/>
<rect x="346.0" y="39.0" width="165.0" height="165.0" rx="11.6" fill="#5aa8b8" filter="url(#b6)"/>
<rect x="54.0" y="332.0" width="167.0" height="168.0" rx="11.6" fill="#5aa8b8" filter="url(#b6)"/>
<rect x="54.0" y="42.0" width="162.0" height="162.0" rx="9.8" fill="#dce048" filter="url(#b2)"/>
<rect x="349.5" y="42.5" width="158.0" height="158.0" rx="9.5" fill="#e0dc50" filter="url(#b2)"/>
<rect x="57.5" y="335.5" width="160.0" height="161.0" rx="9.5" fill="#e0dc50" filter="url(#b2)"/>
<rect x="354.0" y="338.0" width="150.0" height="152.0" rx="8.0" fill="#4c68aa" filter="url(#b4)"/>
<rect x="57.0" y="45.0" width="156.0" height="156.0" rx="12.0" fill="url(#g270a)" filter="url(#b1_5)"/>
<rect x="352.0" y="45.0" width="153.0" height="153.0" rx="12.0" fill="url(#g270b)" filter="url(#b1_5)"/>
<rect x="60.0" y="338.0" width="155.0" height="156.0" rx="12.0" fill="url(#g270c)" filter="url(#b1_5)"/>
</svg>
<text transform="translate(2276.70 88.80) scale(1.0323 1)" font-size="62" fill="#fff" >60 s</text>
<text transform="translate(2834.17 88.60) scale(1.0056 1)" font-size="62" fill="#fff" >120 s</text>
<text transform="translate(2282.62 655.90) scale(0.9760 1)" font-size="62" fill="#151515" >180 s</text>
<text transform="translate(2830.93 655.90) scale(1.0220 1)" font-size="62" fill="#151515" >270 s</text>
<text transform="translate(2304.99 180.30) scale(1.0360 1)" font-size="62" fill="#fff" >(T<tspan dy="-7">−</tspan><tspan dy="7">1)</tspan></text>
<text transform="translate(2608.08 180.30) scale(1.0403 1)" font-size="62" fill="#fff" >(T<tspan dy="-7">−</tspan><tspan dy="7">2)</tspan></text>
<text transform="translate(2304.99 449.50) scale(1.0360 1)" font-size="62" fill="#fff" >(T<tspan dy="-7">−</tspan><tspan dy="7">3)</tspan></text>
<text transform="translate(2608.08 449.50) scale(1.0403 1)" font-size="62" fill="#fff" >(T<tspan dy="-7">−</tspan><tspan dy="7">4)</tspan></text>
<rect x="3399.4" y="14.5" width="38" height="1126.8" fill="url(#cbar)"/>
<text transform="translate(3464.91 74.40) scale(0.9931 1)" font-size="62" fill="#1a1a1a" >85<tspan font-size="40" dy="-17" dx="6.5">°</tspan><tspan dy="17" dx="-4.5">C</tspan></text>
<text transform="translate(3462.36 1151.90) scale(1.0148 1)" font-size="62" fill="#1a1a1a" >20<tspan font-size="40" dy="-17" dx="6.5">°</tspan><tspan dy="17" dx="-4.5">C</tspan></text>
<text transform="translate(2783.30 1321.60) scale(1.0317 1)" font-size="62" fill="#1a1a1a" >(c)</text>
</g>
</svg></body></html>
